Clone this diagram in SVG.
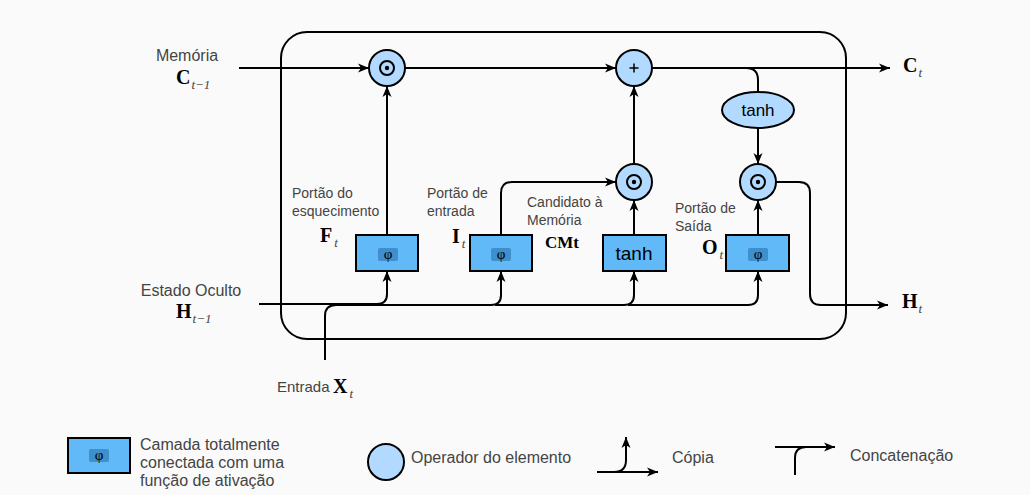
<svg xmlns="http://www.w3.org/2000/svg" width="1030" height="495" viewBox="0 0 1030 495">
<defs>
<marker id="arr" markerUnits="userSpaceOnUse" markerWidth="12" markerHeight="10" refX="11" refY="5" orient="auto">
<path d="M0,0.5 L11,5 L0,9.5 L3,5 z" fill="#000"/>
</marker>
<style>
.ln{fill:none;stroke:#000;stroke-width:2}
.ar{fill:none;stroke:#000;stroke-width:2;marker-end:url(#arr)}
.box{fill:#62b9f7;stroke:#000;stroke-width:2}
.op{fill:#b2d9ff;stroke:#000;stroke-width:2}
.hl{fill:#3e8fcb}
.lbl{font-family:"Liberation Sans",Arial,sans-serif;font-size:14px;fill:#444}
.big{font-size:16px}
.mid{font-size:15px}
.phi{font-family:"Liberation Serif","DejaVu Serif",serif;font-size:15px;fill:#000;text-anchor:middle}
.th{font-family:"Liberation Sans",Arial,sans-serif;fill:#000;text-anchor:middle}
.var{font-family:"Liberation Serif","Times New Roman",serif;font-weight:bold;font-size:20px;fill:#000}
.cm{font-size:17px}
.sub{font-family:"Liberation Serif","Times New Roman",serif;font-style:italic;font-weight:normal;font-size:13px;fill:#444}
</style>
</defs>
<rect width="1030" height="495" fill="#fafafa"/>
<rect x="281" y="32" width="565" height="307" rx="26" class="ln"/>
<g id="connectors">
<path class="ar" d="M239,68 H369"/>
<path class="ar" d="M405,68 H616"/>
<path class="ar" d="M652,68 H890"/>
<path class="ln" d="M746,68 Q758,68 758,80 V92"/>
<path class="ar" d="M758,128 V164"/>
<path class="ar" d="M387,235 V86"/>
<path class="ar" d="M501,235 V193 Q501,182 512,182 H616"/>
<path class="ar" d="M634,235 V200"/>
<path class="ar" d="M634,164 V86"/>
<path class="ar" d="M758,235 V200"/>
<path class="ar" d="M776,182 H799 Q810,182 810,193 V294 Q810,305 821,305 H888"/>
<path class="ar" d="M259,304 H377 Q387,304 387,294 V271"/>
<path class="ar" d="M325,360 V316 Q325,305 336,305 H491 Q501,305 501,295 V271"/>
<path class="ar" d="M495,305 H624 Q634,305 634,295 V271"/>
<path class="ar" d="M628,305 H748 Q758,305 758,295 V271"/>
</g>
<g id="mul-forget"><circle cx="387" cy="68" r="18" class="op"/><circle cx="387" cy="68" r="7" fill="none" stroke="#000" stroke-width="2"/><circle cx="387" cy="68" r="2.2" fill="#000"/></g>
<g id="add"><circle cx="634" cy="68" r="18" class="op"/><path d="M629.5,68 H638.5 M634,63.5 V72.5" stroke="#000" stroke-width="1.5"/></g>
<g id="tanh-ell"><ellipse cx="758" cy="110" rx="36" ry="18" class="op"/><text x="758" y="116" class="th" font-size="17">tanh</text></g>
<g id="mul-cand"><circle cx="634" cy="182" r="18" class="op"/><circle cx="634" cy="182" r="7" fill="none" stroke="#000" stroke-width="2"/><circle cx="634" cy="182" r="2.2" fill="#000"/></g>
<g id="mul-out"><circle cx="758" cy="182" r="18" class="op"/><circle cx="758" cy="182" r="7" fill="none" stroke="#000" stroke-width="2"/><circle cx="758" cy="182" r="2.2" fill="#000"/></g>
<g id="forget">
<rect x="356" y="235" width="62" height="36" class="box"/><rect x="378" y="248" width="20" height="13" rx="2" class="hl"/><text x="388" y="259" class="phi">φ</text>
<text x="292" y="198" class="lbl">Portão do</text><text x="292" y="216" class="lbl">esquecimento</text>
<text x="320" y="242" class="var">F<tspan class="sub" dx="2" dy="5">t</tspan></text>
</g>
<g id="input">
<rect x="470" y="235" width="62" height="36" class="box"/><rect x="491" y="248" width="20" height="13" rx="2" class="hl"/><text x="501" y="259" class="phi">φ</text>
<text x="427" y="198" class="lbl">Portão de</text><text x="427" y="216" class="lbl">entrada</text>
<text x="452" y="243" class="var">I<tspan class="sub" dx="2" dy="5">t</tspan></text>
</g>
<g id="candidate">
<rect x="603" y="235" width="63" height="36" class="box"/><text x="634" y="260" class="th" font-size="19">tanh</text>
<text x="527" y="207" class="lbl">Candidato à</text><text x="527" y="225" class="lbl">Memória</text>
<text x="545" y="248" class="var cm">CMt</text>
</g>
<g id="output">
<rect x="726" y="235" width="63" height="36" class="box"/><rect x="748" y="248" width="20" height="13" rx="2" class="hl"/><text x="758" y="259" class="phi">φ</text>
<text x="675" y="213" class="lbl">Portão de</text><text x="675" y="231" class="lbl">Saída</text>
<text x="702" y="254" class="var">O<tspan class="sub" dx="2" dy="5">t</tspan></text>
</g>
<g id="c-prev"><text x="187" y="61" class="lbl big" text-anchor="middle">Memória</text><text x="176" y="84" class="var">C<tspan class="sub" dx="1" dy="5">t−1</tspan></text></g>
<g id="h-prev"><text x="191" y="296" class="lbl big" text-anchor="middle">Estado Oculto</text><text x="176" y="318" class="var">H<tspan class="sub" dx="1" dy="5">t−1</tspan></text></g>
<g id="x-in"><text x="277" y="392" class="lbl mid">Entrada</text><text x="333" y="393" class="var">X<tspan class="sub" dx="2" dy="5">t</tspan></text></g>
<g id="c-out"><text x="903" y="72" class="var">C<tspan class="sub" dx="1" dy="5">t</tspan></text></g>
<g id="h-out"><text x="902" y="308" class="var">H<tspan class="sub" dx="1" dy="5">t</tspan></text></g>
<g id="legend">
<rect x="68" y="438" width="62" height="35" class="box"/><rect x="89" y="449" width="20" height="13" rx="2" class="hl"/><text x="99" y="460" class="phi">φ</text>
<text x="140" y="450" class="lbl big">Camada totalmente</text><text x="140" y="468" class="lbl big">conectada com uma</text><text x="140" y="486" class="lbl big">função de ativação</text>
<circle cx="386" cy="462" r="18" class="op"/><text x="411" y="463" class="lbl big">Operador do elemento</text>
<path class="ar" d="M597,472 H658"/><path class="ar" d="M614,472 Q626,472 626,460 V437"/><text x="672" y="463" class="lbl big">Cópia</text>
<path class="ar" d="M775,447 H835"/><path class="ln" d="M795,475 V458 Q795,447 806,447"/><text x="850" y="461" class="lbl big">Concatenação</text>
</g>
</svg>
